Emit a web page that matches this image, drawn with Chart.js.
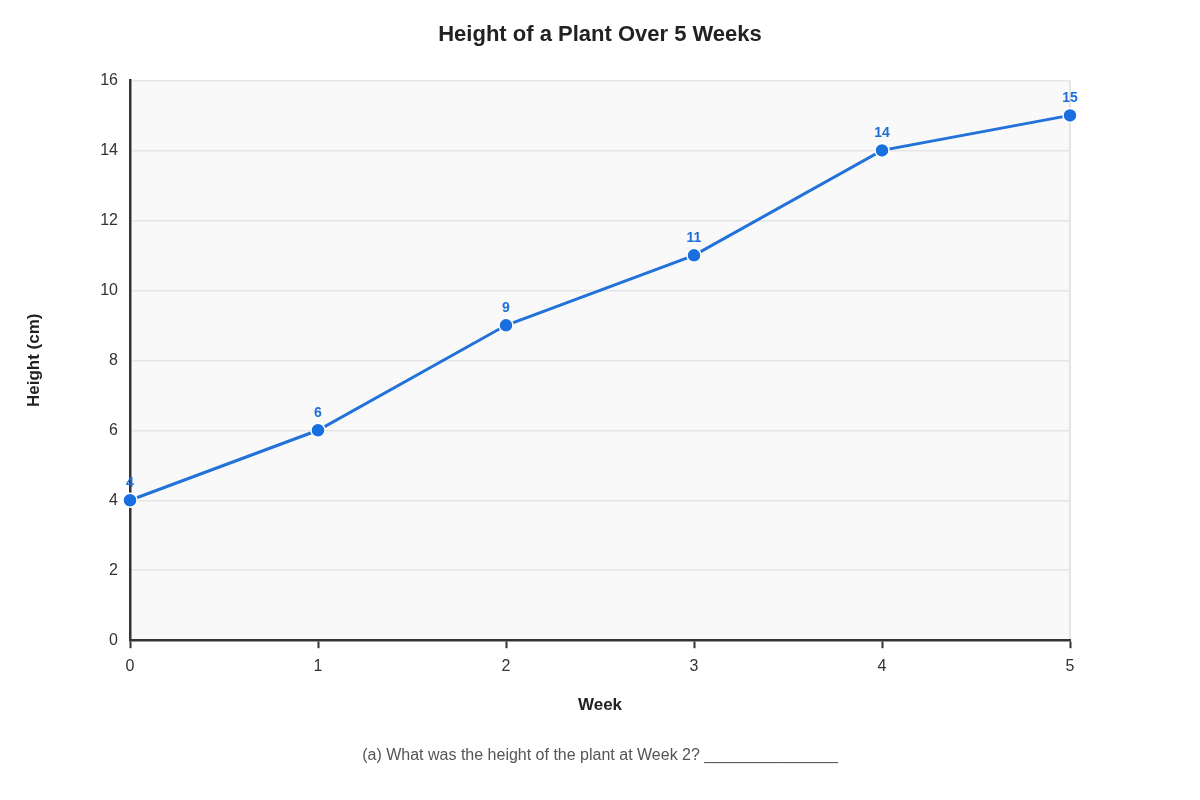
<!DOCTYPE html>
<html>
<head>
<meta charset="utf-8">
<script src="https://cdn.jsdelivr.net/npm/chart.js@4"></script>
<style>
  html,body{margin:0;padding:0;background:#fff;}
  #wrap{width:1200px;height:800px;position:relative;}
</style>
</head>
<body>
<div id="wrap"><canvas id="myChart"></canvas></div>
<script>
'use strict';
// data
let weeks=[0,1,2,3,4,5];
let heights=[4,6,9,11,14,15];
let yTicks=[0,2,4,6,8,10,12,14,16];

let fontName='"Liberation Sans", Arial, sans-serif';
let lineBlue='#2272d9';
let labelBlue='#1f6fdb';

let points=[];
for(let i=0;i<weeks.length;i++){
  points.push({x:weeks[i],y:heights[i]});
}

// light plot background and the thin frame on the right
let plotBackground={
  id:'plotBackground',
  beforeDraw(chart){
    let a=chart.chartArea;
    let ctx=chart.ctx;
    ctx.save();
    ctx.fillStyle='#f9f9f9';
    ctx.fillRect(a.left,a.top,a.right-a.left,a.bottom-a.top);
    ctx.strokeStyle='#dddddd';
    ctx.lineWidth=1.5;
    ctx.beginPath();
    ctx.moveTo(a.right,a.bottom);
    ctx.lineTo(a.right,a.top);
    ctx.stroke();
    ctx.restore();
  }
};

// value written over each point
let pointLabels={
  id:'pointLabels',
  afterDatasetsDraw(chart){
    let ctx=chart.ctx;
    let meta=chart.getDatasetMeta(0);
    ctx.save();
    ctx.font='bold 14px '+fontName;
    ctx.fillStyle=labelBlue;
    ctx.textAlign='center';
    ctx.textBaseline='middle';
    meta.data.forEach(function(pt,i){
      ctx.fillText(String(heights[i]),pt.x,pt.y-17);
    });
    ctx.restore();
  }
};

let ctx=document.getElementById('myChart');
let myChart=new Chart(ctx,{
  type:'line',
  data:{
    datasets:[{
      label:'Height (cm)',
      data:points,
      yAxisID:'y',
      borderColor:lineBlue,
      borderWidth:3,
      backgroundColor:'#1a6fe0',
      pointRadius:7,
      pointBorderColor:'#ffffff',
      pointBorderWidth:1.5,
      pointHoverRadius:7,
      tension:0,
      clip:false
    }]
  },
  options:{
    responsive:true,
    maintainAspectRatio:false,
    animation:false,
    events:[],
    layout:{padding:{left:0,right:0,top:0,bottom:35}},
    plugins:{
      legend:{display:false},
      tooltip:{enabled:false},
      title:{
        display:true,
        text:'Height of a Plant Over 5 Weeks',
        color:'#222222',
        font:{family:fontName,size:22,weight:'bold'},
        padding:{top:22,bottom:32}
      },
      subtitle:{
        display:true,
        position:'bottom',
        text:'(a) What was the height of the plant at Week 2? _______________',
        color:'#555555',
        font:{family:fontName,size:16,weight:'normal'},
        padding:{top:30,bottom:0}
      }
    },
    scales:{
      x:{
        type:'linear',
        min:0,
        max:5,
        ticks:{
          stepSize:1,
          color:'#333333',
          padding:9,
          font:{family:fontName,size:16}
        },
        grid:{
          drawOnChartArea:false,
          drawTicks:true,
          tickLength:8,
          tickColor:'#333333',
          tickWidth:2
        },
        border:{color:'#333333',width:2.5},
        title:{
          display:true,
          text:'Week',
          color:'#222222',
          font:{family:fontName,size:17,weight:'bold'},
          padding:{top:10,bottom:0}
        }
      },
      y:{
        min:0,
        max:16,
        afterBuildTicks(scale){
          scale.ticks=yTicks.map(function(v){return {value:v};});
        },
        afterFit(scale){
          scale.width=130;
        },
        ticks:{
          color:'#333333',
          padding:12,
          font:{family:fontName,size:16}
        },
        grid:{
          color:'#e6e6e6',
          lineWidth:1.5,
          drawTicks:false
        },
        border:{color:'#333333',width:2.5},
        title:{
          display:true,
          text:'Height (cm)',
          color:'#222222',
          font:{family:fontName,size:17,weight:'bold'},
          padding:{top:24,bottom:0}
        }
      },
      // empty axis on the right only to keep the plot centred
      yRight:{
        position:'right',
        min:0,
        max:16,
        afterFit(scale){
          scale.width=130;
        },
        ticks:{display:false},
        grid:{drawOnChartArea:false,drawTicks:false},
        border:{display:false}
      }
    }
  },
  plugins:[plotBackground,pointLabels]
});
</script>
</body>
</html>
